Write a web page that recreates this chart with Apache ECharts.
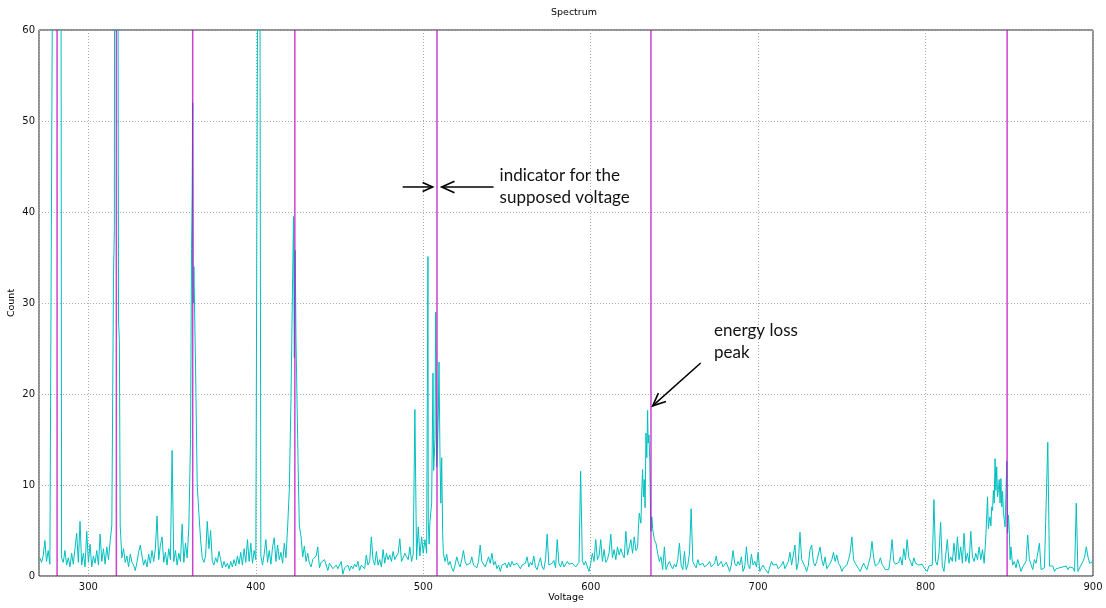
<!DOCTYPE html>
<html>
<head>
<meta charset="utf-8">
<script src="https://cdn.jsdelivr.net/npm/echarts@6/dist/echarts.min.js"></script>
<style>
html,body{margin:0;padding:0;background:#fff;}
#chart{width:1106px;height:608px;}
</style>
</head>
<body>
<div id="chart"></div>
<script>
// Spectrum: [voltage, count]
const spectrum = [
[271,2.0],[272,1.5],[273,2.2],[274,3.9],[275,1.6],[276,2.8],[277,1.3],[278,1.5],
[279,85],[280,200],[281,250],[282,220],[283,195],
[284,2.0],[285,1.5],[286,2.8],[287,1.2],[288,2.0],[289,1.0],[290,2.5],[291,1.3],[292,3.0],[293,4.7],
[294,1.5],[295,6.0],[296,1.2],[297,2.5],[298,1.0],[299,4.9],[300,1.5],[301,3.5],[302,1.0],[303,2.2],
[304,1.4],[305,2.8],[306,1.2],[307,4.6],[308,1.6],[309,3.0],[310,1.3],[311,3.2],[312,1.8],[313,3.8],[314,5.6],
[315,33],[315.5,38],[316,150],[317,100],[317.5,90],[318,28],[318.5,26],[319,5.5],
[320,2.0],[321,3.0],[322,1.5],[323,2.2],[324,1.0],[325,2.4],[326,1.5],[327,1.2],[328,0.6],[329,1.5],
[330,2.6],[331,3.4],[332,2.2],[333,1.2],[334,1.8],[335,1.0],[336,2.4],[337,1.4],[338,2.8],[339,1.6],
[340,3.0],[341,6.6],[342,1.8],[343,3.4],[344,4.3],[345,1.5],[346,2.6],[347,1.2],[348,3.0],[349,1.8],
[350,13.8],[351,1.6],[352,2.8],[353,1.2],[354,2.5],[355,1.6],[356,5.7],[357,1.5],[358,3.6],[359,2.0],[360,5.4],
[361,15],[361.6,36],[362,42],[362.3,52],[362.7,30],[363,34],[364,23],[365,10],[366,6.9],
[367,4.0],[368,2.0],[369,1.5],[370,2.2],[371,6.0],[372,3.0],[373,5.0],[374,1.6],[375,1.2],[376,2.0],
[377,1.5],[378,2.7],[379,1.8],[380,0.9],[381,1.6],[382,1.0],[383,1.4],[384,0.8],[385,1.6],[386,1.0],
[387,1.8],[388,1.1],[389,2.2],[390,1.3],[391,2.6],[392,1.2],[393,3.0],[394,1.5],[395,4.0],[396,1.6],
[397,3.6],[398,1.4],[399,2.8],[400,1.8],[401,2.0],[402,120],
[403,2.2],[404,1.2],[405,2.4],[406,4.0],[407,1.5],[408,2.8],[409,1.3],[410,3.2],[411,4.2],[412,1.6],
[413,3.4],[414,1.8],[415,2.6],[416,1.4],[417,3.6],[418,2.0],[419,5.4],[420,9.5],
[421,19.5],[422,33],[422.5,39.5],[423,24],[423.5,35.8],[424,26],[425,15],[425.5,9.8],[426,5.5],[427,4.3],
[428,2.1],[429,3.3],[430,1.6],[431,2.5],[432,1.4],[433,1.0],[434,1.8],[435,1.6],[436,2.2],[437,3.2],
[438,0.9],[439,1.5],[440,1.3],[441,1.8],[442,1.6],[443,0.6],[444,1.4],[445,1.1],[446,0.8],[447,1.0],
[448,1.2],[449,0.8],[450,1.2],[451,1.6],[452,0.2],[453,0.9],[454,1.0],[455,1.2],[456,0.6],[457,1.1],
[458,0.8],[459,1.3],[460,1.0],[461,1.6],[462,0.6],[463,1.2],[464,1.4],[465,0.8],[466,2.3],[467,1.2],
[468,1.6],[469,4.3],[470,1.8],[471,1.2],[472,2.7],[473,1.2],[474,1.8],[475,1.0],[476,2.9],[477,1.4],
[478,2.5],[479,1.8],[480,2.3],[481,1.6],[482,2.7],[483,1.8],[484,2.2],[485,2.5],[486,4.1],[487,1.6],
[488,2.0],[489,2.5],[490,2.1],[491,1.8],[492,3.2],[493,1.6],[494,2.4],[495,18.3],[496,1.8],[497,5.4],
[498,2.2],[499,4.3],[500,2.5],
[501,4.0],[502,2.5],[502.8,35.1],[503,6.0],[503.5,3.5],[504,6.0],[505,8.0],[505.8,22.3],[506.2,11.6],
[507,15],[507.4,29.0],[508,12],[508.5,14],[509,18],[509.4,23.5],[510,13],[510.5,8],[511,13.0],[511.6,4.6],[512,2.5],
[513,1.6],[514,2.4],[515,1.2],[516,1.6],[517,0.9],[518,0.5],[519,1.2],[520,2.1],[521,1.4],[522,1.0],
[523,1.8],[524,2.8],[525,1.6],[526,1.2],[527,1.0],[528,1.4],[529,2.1],[530,1.2],[531,1.4],[532,0.9],
[533,1.6],[534,3.4],[535,1.6],[536,1.4],[537,1.0],[538,1.2],[539,2.1],[540,1.4],[541,2.5],[542,1.2],
[543,1.6],[544,0.8],[545,1.2],[546,0.5],[547,1.2],[548,1.0],[549,1.4],[550,0.9],[551,1.5],[552,1.0],
[553,1.6],[554,1.2],[555,1.0],[556,1.4],[557,1.2],[558,0.8],[559,1.2],[560,1.0],[561,1.4],[562,2.1],
[563,1.0],[564,1.5],[565,1.2],[566,2.2],[567,1.0],[568,0.7],[569,1.4],[570,2.0],[571,1.0],[572,0.7],
[573,1.8],[574,4.6],[575,1.2],[576,1.0],[577,1.4],[578,1.7],[579,0.9],[580,4.0],[581,1.4],[582,1.0],
[583,1.6],[584,1.0],[585,1.2],[586,1.6],
[587,1.3],[588,1.1],[589,1.4],[590,1.6],[591,1.0],[592,1.2],[593,1.5],[594,11.5],[595,1.7],[596,1.2],
[597,1.6],[598,1.0],[599,0.5],[600,1.4],[601,2.5],[602,1.6],[603,4.0],[604,1.8],[605,2.2],[606,4.0],
[607,1.6],[608,2.9],[609,1.5],[610,1.8],[611,2.6],[612,4.6],[613,2.0],[614,2.9],[615,1.8],[616,3.2],
[617,2.3],[618,3.0],[619,2.4],[620,2.0],[621,4.9],[622,2.3],[623,2.1],[624,4.0],[625,2.5],[626,4.3],
[627,2.8],[628,3.1],[628.5,5.2],[629,6.9],[630,5.8],[630.5,9.4],[631,11.7],[631.5,8.7],[632,10.6],
[632.5,7.5],[633,15.7],[633.5,13],[634,18.2],[634.3,14.6],[634.8,15.5],[635.3,12.6],[635.8,6.0],
[636,4.9],[636.5,6.5],[637,5.2],[638,4.0],[639,3.6],[640,2.5],[641,1.6],[642,2.1],[643,0.7],[644,3.2],
[645,0.7],[646,1.2],[647,1.6],[648,1.1],[649,0.8],[650,1.3],[651,1.0],[652,1.8],[653,3.6],[654,1.2],
[655,0.7],[656,2.7],[657,0.7],[658,1.2],[659,2.5],[660,7.4],[661,1.6],[662,1.2],[663,0.9],[664,1.8],
[665,1.2],[666,1.1],[667,1.4],[668,1.0],[669,1.1],[670,1.3],[671,1.6],[672,1.0],[673,1.2],[674,1.4],
[675,2.2],[676,1.1],[677,1.3],[678,1.6],[679,1.0],[680,1.1],[681,1.5],[682,1.0],[683,0.5],[684,1.2],
[685,2.8],[686,1.4],[687,1.1],[688,1.6],[689,1.2],[690,2.1],[691,0.5],[692,1.0],[693,3.2],[694,1.2],
[695,0.8],[696,2.4],[697,1.2],[698,1.6],[699,1.0],[700,2.6],[701,0.5],[702,0.9],[703,1.2],[704,0.8],
[705,1.0],[706,0.3],[707,1.0],[708,1.6],[709,1.2],[710,1.0],[711,1.3],[712,0.8],[713,0.7],[714,1.2],
[715,1.6],[716,0.8],[717,1.2],[718,1.6],[719,2.6],[720,1.2],[721,1.4],[722,3.4],[723,0.7],[724,1.5],
[725,4.8],[726,1.8],[727,1.6],[728,1.0],[729,0.5],[730,1.2],[731,2.9],[732,3.4],[733,1.5],[734,1.1],
[735,1.6],[736,1.4],[737,3.2],[738,1.8],[739,1.1],[740,2.1],[741,0.8],
[742,1.1],[743,1.4],[744,1.8],[745,2.6],[746,1.6],[747,2.3],[748,1.4],[749,1.1],[750,0.5],[751,0.9],
[752,0.7],[753,1.2],[754,1.8],[755,2.6],[756,4.3],[757,1.8],[758,1.4],[759,1.1],[760,0.8],[761,0.5],
[762,1.0],[763,1.4],[764,1.0],[765,0.7],[766,1.4],[767,2.1],[768,3.8],[769,2.0],[770,1.1],[771,0.9],
[772,1.4],[773,2.0],[774,1.3],[775,1.0],[776,0.7],[777,0.9],[778,0.7],[779,2.0],[780,4.0],[781,1.6],
[782,1.3],[783,1.1],[784,1.5],[785,2.1],[786,1.2],[787,3.0],[788,1.8],[789,4.0],[790,2.0],[791,1.6],
[792,1.1],[793,2.0],[794,1.4],[795,1.6],[796,1.2],[797,1.1],[798,1.3],[799,0.9],[800,1.0],[801,0.5],
[802,1.1],[803,1.0],[804,1.2],[805,8.4],[806,1.6],[807,1.2],[808,2.5],[809,5.9],[810,1.1],[811,0.5],
[812,0.5],[813,4.0],[814,1.4],[815,2.1],[816,1.6],[817,3.6],[818,1.6],[819,4.3],[820,1.8],[821,3.2],
[822,1.4],[823,4.7],[824,1.6],[825,2.5],[826,1.4],[827,4.9],[828,2.1],[829,1.6],[830,2.5],[831,1.8],
[832,3.2],[833,1.8],[834,2.9],[835,1.4],[836,4.3],[837,8.7],[837.5,5.2],[838,6.0],[838.5,6.5],[839,5.5],
[839.5,7.6],[840,7.2],[840.5,9.4],[841,8.0],[841.5,12.9],[842,9.4],[842.5,12.0],[843,8.7],[843.5,9.5],
[844,10.6],[844.5,8.0],[845,10.7],[845.5,7.6],[846,9.3],[846.5,7.0],[847,6.2],[847.5,5.4],[848,9.0],
[848.5,12.6],[849,4.7],[849.5,6.7],[850,5.0],[850.5,1.8],[851,3.2],[852,1.2],[853,1.6],[854,0.9],
[855,1.8],[856,1.2],[857,0.5],[858,1.0],[859,1.2],[860,1.6],[861,4.5],[862,1.8],[863,1.6],[864,0.7],
[865,1.8],[866,1.4],[867,1.6],[868,3.6],[869,0.7],[870,0.9],[871,0.9],[872,1.1],[873,14.7],[874,1.1],
[875,1.0],[876,1.1],[877,0.5],[878,0.8],[879,0.7],[880,0.9],[881,1.1],[882,1.0],[883,0.9],[884,1.1],
[885,0.7],[886,1.0],[887,1.1],[888,0.9],[889,0.5],[890,8.0],[891,0.5],[892,0.9],[893,1.1],[894,1.6],
[895,2.1],[896,3.2],[897,2.1],[898,1.4],[899,1.2],[900,1.6]
];

// Supposed voltages (magenta indicator lines)
const indicatorVoltages = [281.3, 316.7, 362.3, 423.3, 508.2, 636.0, 848.7];

// Axis ranges
const xRange = [270.5, 900];
const yRange = [0, 60];

// Annotations (data coordinates)
const arrowFrom = [[487.7, 42.75], [542.0, 42.75], [665.7, 23.4]];
const arrowTo   = [[505.6, 42.75], [511.0, 42.75], [637.0, 18.7]];
const arrowHead = [11, 14, 14];
const noteTexts = ['indicator for the\nsupposed voltage', 'energy loss\npeak'];
const noteAt    = [[545.6, 45.2], [673.7, 28.2]];

const chart = echarts.init(document.getElementById('chart'), null, {renderer: 'canvas'});

const indicatorSeries = indicatorVoltages.map(v => ({
  type: 'line',
  data: [[v, yRange[0]], [v, yRange[1]]],
  symbol: 'none',
  silent: true,
  z: 5,
  lineStyle: {color: '#bf00bf', width: 1.5, opacity: 0.75}
}));

const baseFont = 'DejaVu Sans';

chart.setOption({
  animation: false,
  backgroundColor: '#ffffff',
  title: {
    text: 'Spectrum',
    left: 569, top: 3, textAlign: 'center',
    textStyle: {fontFamily: baseFont, fontSize: 9.5, fontWeight: 'normal', color: '#000'}
  },
  grid: {left: 39, right: 13, top: 30, bottom: 32, containLabel: false, outerBoundsMode: 'none',
         show: true, borderColor: '#222', borderWidth: 1, backgroundColor: 'transparent'},
  xAxis: {
    type: 'value', min: xRange[0], max: xRange[1], minInterval: 100, maxInterval: 100,
    name: 'Voltage', nameLocation: 'middle', nameGap: 17, nameMoveOverlap: false,
    nameTextStyle: {fontFamily: baseFont, fontSize: 9.5, color: '#000'},
    axisLine: {show: false},
    axisTick: {show: false},
    axisLabel: {fontFamily: baseFont, fontSize: 10, color: '#111', margin: 6, showMinLabel: false, showMaxLabel: true},
    splitLine: {show: true, lineStyle: {color: '#aaaaaa', width: 1, type: [1, 2]}}
  },
  yAxis: {
    type: 'value', min: yRange[0], max: yRange[1], interval: 10,
    name: 'Count', nameLocation: 'middle', nameGap: 22, nameRotate: 90, nameMoveOverlap: false,
    nameTextStyle: {fontFamily: baseFont, fontSize: 9.5, color: '#000'},
    axisLine: {show: false},
    axisTick: {show: false},
    axisLabel: {fontFamily: baseFont, fontSize: 10, color: '#111', margin: 4},
    splitLine: {show: true, lineStyle: {color: '#aaaaaa', width: 1, type: [1, 2]}}
  },
  series: [{
    type: 'line',
    data: spectrum,
    symbol: 'none',
    silent: true,
    z: 3,
    clip: true,
    lineStyle: {color: '#00bfbf', width: 1}
  }].concat(indicatorSeries)
});

function toPx(p) { return chart.convertToPixel({gridIndex: 0}, p); }

const graphics = [];
for (let i = 0; i < arrowFrom.length; i++) {
  const a = toPx(arrowFrom[i]);
  const b = toPx(arrowTo[i]);
  const ang = Math.atan2(b[1] - a[1], b[0] - a[0]);
  const h = arrowHead[i];
  const spread = 0.42;
  const l = [b[0] - h * Math.cos(ang - spread), b[1] - h * Math.sin(ang - spread)];
  const r = [b[0] - h * Math.cos(ang + spread), b[1] - h * Math.sin(ang + spread)];
  graphics.push({type: 'polyline', z: 10, shape: {points: [a, b]}, style: {stroke: '#000', lineWidth: 1.5, fill: null}});
  graphics.push({type: 'polyline', z: 10, shape: {points: [l, b, r]}, style: {stroke: '#000', lineWidth: 1.6, fill: null}});
}
for (let i = 0; i < noteTexts.length; i++) {
  const p = toPx(noteAt[i]);
  graphics.push({
    type: 'text', z: 10, x: p[0], y: p[1],
    style: {text: noteTexts[i], font: '17px Lato', fill: '#111', lineHeight: 22, verticalAlign: 'top', align: 'left'}
  });
}
chart.setOption({graphic: graphics});
</script>
</body>
</html>
